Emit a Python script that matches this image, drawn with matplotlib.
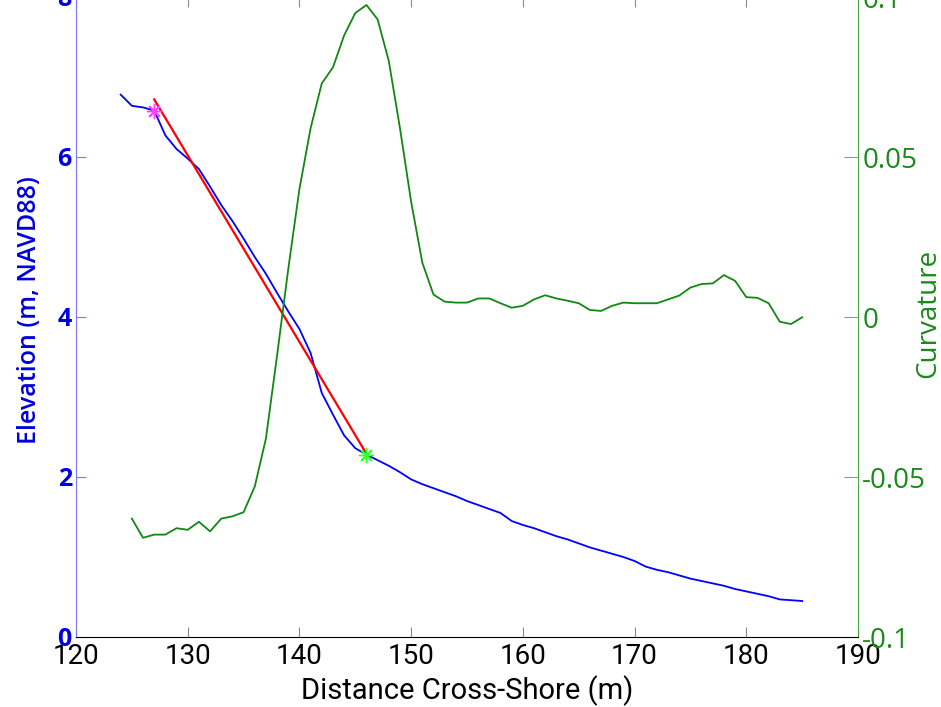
import matplotlib
matplotlib.use("Agg")
import matplotlib.pyplot as plt

# ---- data ----
dist_elev = list(range(124, 186))
elevation = [6.78, 6.64, 6.62, 6.58, 6.27, 6.10, 5.98, 5.85, 5.63, 5.40,
             5.20, 4.98, 4.75, 4.54, 4.30, 4.07, 3.85, 3.55, 3.05, 2.78,
             2.52, 2.36, 2.28, 2.21, 2.14, 2.06, 1.97, 1.91, 1.86, 1.81,
             1.76, 1.70, 1.65, 1.60, 1.55, 1.45, 1.40, 1.36, 1.31, 1.26,
             1.22, 1.17, 1.12, 1.08, 1.04, 1.00, 0.95, 0.88, 0.84, 0.81,
             0.77, 0.73, 0.70, 0.67, 0.64, 0.60, 0.57, 0.54, 0.51, 0.47,
             0.46, 0.45]

dist_curv = list(range(125, 186))
curvature = [-0.063, -0.069, -0.068, -0.068, -0.066, -0.0665, -0.064, -0.067, -0.063, -0.0623,
             -0.061, -0.053, -0.038, -0.012, 0.015, 0.040, 0.059, 0.073, 0.078, 0.088,
             0.095, 0.0975, 0.093, 0.080, 0.059, 0.036, 0.017, 0.007, 0.0048, 0.0045,
             0.0045, 0.0058, 0.0058, 0.0043, 0.0029, 0.0035, 0.0055, 0.0068, 0.0058, 0.0051,
             0.0043, 0.0022, 0.0019, 0.0035, 0.0045, 0.0043, 0.0043, 0.0043, 0.0055, 0.0067,
             0.0092, 0.0103, 0.0105, 0.0131, 0.0113, 0.0062, 0.0060, 0.0043, -0.0015, -0.0022,
             -0.0001]

fit_x = [127, 146]
fit_y = [6.72, 2.29]
top_pt = (127, 6.58)
toe_pt = (146, 2.28)

x_ticks = [120, 130, 140, 150, 160, 170, 180, 190]
elev_ticks = [0, 2, 4, 6, 8]
curv_ticks = [-0.1, -0.05, 0, 0.05, 0.1]
curv_tick_labels = ["-0.1", "-0.05", "0", "0.05", "0.1"]

BLUE = "#0000e0"
GREEN = "#1a8a1a"
ASTERISK = (8, 2, 0)

fig = plt.figure(figsize=(9.41, 7.07), dpi=100)
ax = fig.add_axes([76/941, 70/707, 782/941, 640/707])
ax2 = ax.twinx()

ax.plot(dist_elev, elevation, color="#0000ff", lw=1.3, zorder=3)
ax.plot(fit_x, fit_y, color="#ff0000", lw=1.6, zorder=4)
ax.plot(*top_pt, marker=ASTERISK, color="#ff44ff", ms=11, mew=1.0, zorder=5)
ax.plot(*toe_pt, marker=ASTERISK, color="#33ff33", ms=11, mew=1.0, zorder=5)
ax2.plot(dist_curv, curvature, color="#118811", lw=1.3)

ax.set_xlim(120, 190)
ax.set_ylim(0, 8)
ax2.set_ylim(-0.1, 0.1)

ax.set_xticks(x_ticks)
ax.set_xticklabels([str(t) for t in x_ticks], fontsize=20, family="Roboto", color="black")
ax.set_yticks(elev_ticks)
ax.set_yticklabels([str(t) for t in elev_ticks], fontsize=18, color=BLUE,
                   family="Open Sans", fontweight="bold")
ax2.set_yticks(curv_ticks)
ax2.set_yticklabels(curv_tick_labels, fontsize=20, color=GREEN, family="Open Sans")

ax.tick_params(axis="x", direction="in", length=7, color="#888888", top=True, pad=4)
ax.tick_params(axis="y", direction="in", length=7, color="#7777ff", pad=3)
ax2.tick_params(axis="y", direction="in", length=10, color="#66bb66", pad=3)

for s in ax.spines.values():
    s.set_visible(False)
ax2.spines["left"].set_color("#7777ff")
ax2.spines["right"].set_color("#44aa44")
ax2.spines["bottom"].set_color("black")
ax2.spines["top"].set_visible(False)

ax.set_xlabel("Distance Cross-Shore (m)", fontsize=21, family="Roboto", labelpad=4)
ax.set_ylabel("Elevation (m, NAVD88)", fontsize=18, color=BLUE, family="Open Sans",
              fontweight="semibold")
ax.yaxis.set_label_coords(-(76 - 42) / 782, (707 - 310 - 70) / 640)
ax2.set_ylabel("Curvature", fontsize=20, color=GREEN, family="Open Sans")
ax2.yaxis.set_label_coords((914 - 76) / 782, (707 - 313 - 70) / 640)

fig.savefig("out.png", dpi=100)
